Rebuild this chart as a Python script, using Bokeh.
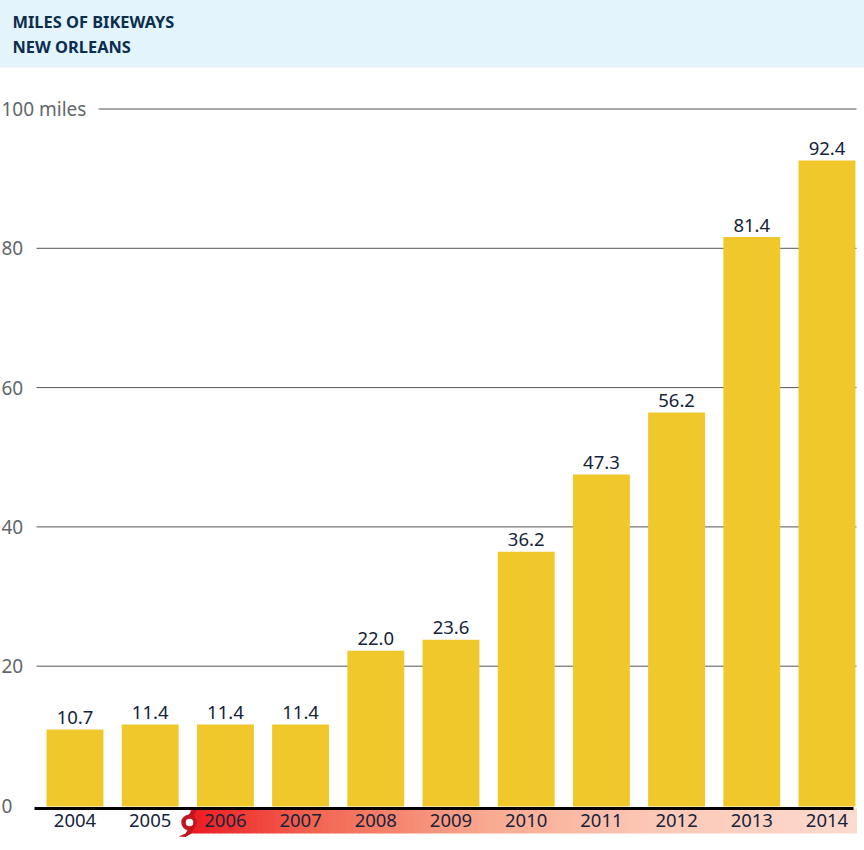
from bokeh.embed import file_html
from bokeh.resources import INLINE
from bokeh.plotting import figure
from bokeh.models import Range1d, FixedTicker, NumeralTickFormatter, Label
from bokeh.core.properties import value

title_lines = ["MILES OF BIKEWAYS", "NEW ORLEANS"]
years = [2004, 2005, 2006, 2007, 2008, 2009, 2010, 2011, 2012, 2013, 2014]
miles = [10.7, 11.4, 11.4, 11.4, 22.0, 23.6, 36.2, 47.3, 56.2, 81.4, 92.4]
y_ticks = [0, 20, 40, 60, 80, 100]
y_tick_labels = {100: "100 miles"}
grid_values = [20, 40, 60, 80, 100]

W, H = 864, 850
FONT = "Noto Sans"
PX_PER_YEAR = 75.2
X_2004_PX = 74.5
x_of = lambda px: 2004 + (px - X_2004_PX) / PX_PER_YEAR
Y0, YS = 805.0, 6.965
y_of = lambda py: (Y0 - py) / YS
B0, BS = 803.5, 6.965

p = figure(width=W + 1, height=H + 1, output_backend="svg", toolbar_location=None,
           x_range=Range1d(x_of(-1), x_of(W)), y_range=Range1d(y_of(H), y_of(-1)),
           y_axis_location="right",
           min_border=0, min_border_left=0, min_border_right=0, min_border_top=0, min_border_bottom=0,
           outline_line_color=None, background_fill_color="white", border_fill_color="white")
p.extra_y_ranges = {"bars": Range1d((B0 - H) / BS, (B0 + 1) / BS)}
p.styles = {"position": "absolute", "left": "-1px", "top": "-1px"}
p.xgrid.visible = False
p.ygrid.visible = False

# header band
p.quad(left=x_of(-3), right=x_of(W + 3), top=y_of(-3), bottom=y_of(67), fill_color="#E3F4FD", line_color=None)
for line, py in zip(title_lines, (21, 46)):
    p.add_layout(Label(x=x_of(12), y=y_of(py), text=line, text_font=FONT, text_font_style="bold",
                       text_font_size="16.4px", text_color="#0B2E4F", text_baseline="middle", text_align="left"))

# grid lines
p.segment(x0=[x_of(98) if g == 100 else x_of(36) for g in grid_values], x1=[x_of(856)] * len(grid_values),
          y0=grid_values, y1=grid_values, line_color="#555555", line_width=1)

# timeline band with gradient
stops = [(0.0, (237, 28, 36)), (0.18, (242, 100, 80)), (0.45, (249, 170, 145)), (0.7, (252, 200, 182)), (1.0, (253, 218, 206))]
def colour(t):
    for (a, ca), (b, cb) in zip(stops, stops[1:]):
        if t <= b:
            f = (t - a) / (b - a)
            return "#%02x%02x%02x" % tuple(round(u + (v - u) * f) for u, v in zip(ca, cb))
    return "#fddace"
n = 111
edges = [190 + (856 - 190) * i / n for i in range(n + 1)]
p.quad(left=[x_of(e) for e in edges[:-1]], right=[x_of(e + 0.5) for e in edges[1:]],
       top=y_of(808), bottom=y_of(833), fill_color=[colour(i / (n - 1)) for i in range(n)], line_color=None)

# hurricane mark
red = "#C2161E"
p.patches(xs=[[x_of(v) for v in (186, 191, 197, 193, 191)], [x_of(v) for v in (188, 185, 178, 185, 191, 194)]],
          ys=[[y_of(v) for v in (816, 811, 808, 815, 819)], [y_of(v) for v in (828, 833, 836, 836.5, 833, 826)]],
          fill_color=red, line_color=None)
p.scatter(x=[x_of(188.5)], y=[y_of(822)], size=15.5, marker="circle", fill_color=red, line_color=None)
p.scatter(x=[x_of(189)], y=[y_of(822)], size=7.5, marker="circle", fill_color="white", line_color=None)

# bars
p.vbar(x=years, top=miles, bottom=(B0 - 806) / BS, width=0.757, fill_color="#F1C82B", line_color=None, y_range_name="bars")
p.text(x=years, y=miles, text=["%.1f" % m for m in miles], y_range_name="bars", y_offset=-12,
       text_font=value(FONT), text_font_size="18.5px", text_color="#15233B",
       text_align="center", text_baseline="alphabetic")

# axes (placed inside the frame)
xa = p.xaxis[0]
xa.fixed_location = y_of(807.5)
xa.ticker = FixedTicker(ticks=years)
xa.formatter = NumeralTickFormatter(format="0")
xa.bounds = (x_of(34), x_of(853))
xa.axis_line_color = "black"
xa.axis_line_width = 3
xa.major_tick_line_color = None
xa.minor_tick_line_color = None
xa.major_label_standoff = 0
xa.major_label_text_font = FONT
xa.major_label_text_font_size = "18.5px"
xa.major_label_text_color = "#15233B"

ya = p.yaxis[0]
ya.fixed_location = x_of(-7)
ya.ticker = FixedTicker(ticks=y_ticks)
ya.major_label_overrides = y_tick_labels
ya.axis_line_color = None
ya.major_tick_line_color = None
ya.minor_tick_line_color = None
ya.major_label_standoff = 2
ya.major_label_text_font = FONT
ya.major_label_text_font_size = "19px"
ya.major_label_text_color = "#63666A"

open("out.html", "w").write(file_html(p, INLINE))
